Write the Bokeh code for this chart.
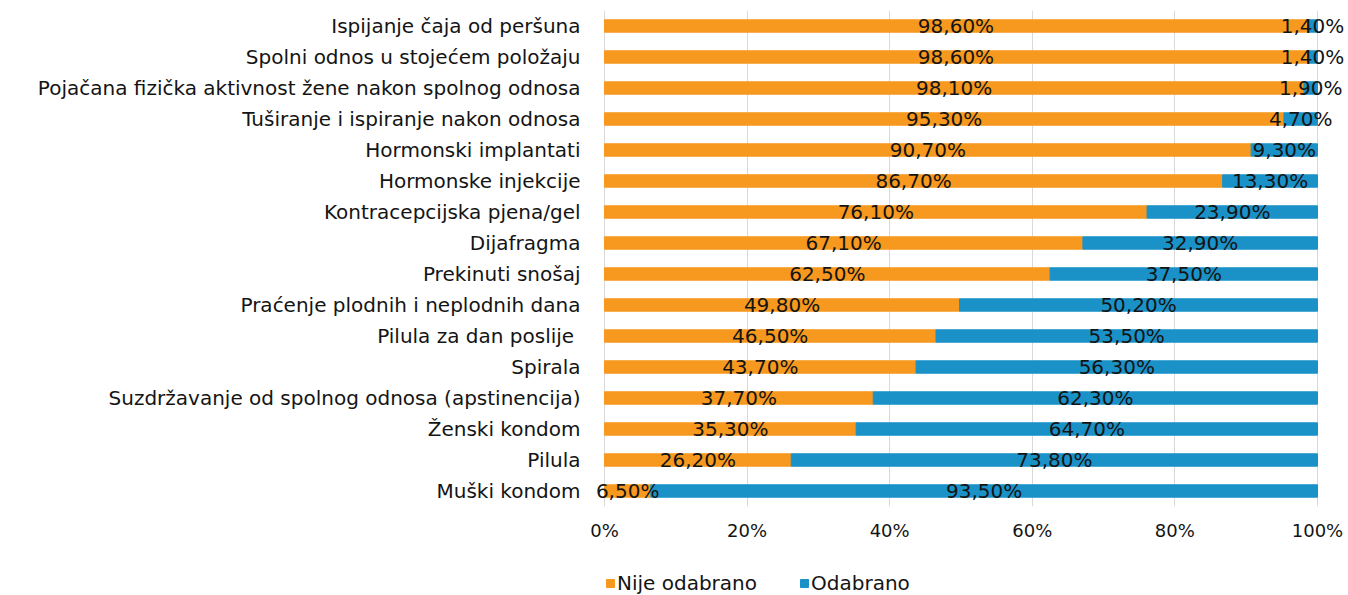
from bokeh.plotting import figure
from bokeh.layouts import column
from bokeh.models import ColumnDataSource, FixedTicker, Legend, LegendItem, LabelSet, Range1d, FactorRange
from bokeh.core.properties import value
from bokeh.embed import file_html
from bokeh.resources import INLINE

categories = [
    "Ispijanje čaja od peršuna",
    "Spolni odnos u stojećem položaju",
    "Pojačana fizička aktivnost žene nakon spolnog odnosa",
    "Tuširanje i ispiranje nakon odnosa",
    "Hormonski implantati",
    "Hormonske injekcije",
    "Kontracepcijska pjena/gel",
    "Dijafragma",
    "Prekinuti snošaj",
    "Praćenje plodnih i neplodnih dana",
    "Pilula za dan poslije ",
    "Spirala",
    "Suzdržavanje od spolnog odnosa (apstinencija)",
    "Ženski kondom",
    "Pilula",
    "Muški kondom",
]
nije = [98.6, 98.6, 98.1, 95.3, 90.7, 86.7, 76.1, 67.1, 62.5, 49.8, 46.5, 43.7, 37.7, 35.3, 26.2, 6.5]
odabrano = [1.4, 1.4, 1.9, 4.7, 9.3, 13.3, 23.9, 32.9, 37.5, 50.2, 53.5, 56.3, 62.3, 64.7, 73.8, 93.5]
series_names = ["Nije odabrano", "Odabrano"]
x_ticks = [0, 20, 40, 60, 80, 100]

ORANGE = "#F7991F"
BLUE = "#1A92C8"
TXT = "#141414"
FONT = "DejaVu Sans"
W = 1346

def fmt(v):
    return f"{v:.2f}".replace(".", ",") + "%"

src = ColumnDataSource(dict(
    cat=categories,
    nije=nije,
    total=[a + b for a, b in zip(nije, odabrano)],
    nije_mid=[a / 2 for a in nije],
    odab_mid=[a + b / 2 for a, b in zip(nije, odabrano)],
    nije_lbl=[fmt(v) for v in nije],
    odab_lbl=[fmt(v) for v in odabrano],
))

# frame padded beyond 0..100 so edge labels are not clipped
p = figure(
    y_range=list(reversed(categories)),
    x_range=Range1d(-2.24, 104.07),
    width=W, height=548,
    output_backend="svg", toolbar_location=None,
    min_border_left=588, min_border_right=0, min_border_top=10, min_border_bottom=42,
)

r1 = p.hbar(y="cat", left=0, right="nije", height=0.4, color=ORANGE, source=src)
r2 = p.hbar(y="cat", left="nije", right="total", height=0.4, color=BLUE, source=src)

for xcol, tcol in (("nije_mid", "nije_lbl"), ("odab_mid", "odab_lbl")):
    p.add_layout(LabelSet(x=xcol, y="cat", text=tcol, source=src,
                          text_align="center", text_baseline="middle",
                          text_font=value(FONT), text_font_size=value("20px"),
                          text_color=TXT))

p.outline_line_color = None
p.ygrid.grid_line_color = None
p.xgrid.grid_line_color = "#D9D9D9"
p.xgrid.ticker = FixedTicker(ticks=x_ticks)

p.xaxis.ticker = FixedTicker(ticks=x_ticks)
p.xaxis.major_label_overrides = {t: f"{t}%" for t in x_ticks}
p.xaxis.axis_line_color = None
p.xaxis.major_tick_line_color = None
p.xaxis.minor_tick_line_color = None
p.xaxis.major_label_standoff = 7
p.xaxis.major_label_text_font = FONT
p.xaxis.major_label_text_font_size = "18px"
p.xaxis.major_label_text_color = TXT

p.yaxis.axis_line_color = None
p.yaxis.major_tick_line_color = None
p.yaxis.minor_tick_line_color = None
p.yaxis.major_label_standoff = 2
p.yaxis.major_label_text_font = FONT
p.yaxis.major_label_text_font_size = "20px"
p.yaxis.major_label_text_color = TXT

# legend strip below the chart (its frame is aligned with the chart's frame);
# its renderers use a range without the categories, so no bars are drawn there
q = figure(width=W, height=47, y_range=FactorRange(factors=series_names),
           x_range=Range1d(0, 100),
           x_axis_location=None, y_axis_location=None,
           output_backend="svg", toolbar_location=None,
           min_border_left=0, min_border_right=0, min_border_top=0, min_border_bottom=0)
q.outline_line_color = None
q.grid.grid_line_color = None
l1 = q.hbar(y="cat", left=0, right="nije", height=0.4, color=ORANGE, source=src)
l2 = q.hbar(y="cat", left="nije", right="total", height=0.4, color=BLUE, source=src)
legend = Legend(items=[LegendItem(label=series_names[0], renderers=[l1]),
                       LegendItem(label=series_names[1], renderers=[l2])],
                orientation="horizontal", location=(17, 0),
                label_text_font=FONT, label_text_font_size="20px",
                label_text_color=TXT, label_height=24,
                glyph_width=10, glyph_height=10, label_standoff=2,
                spacing=42, padding=0, margin=0, border_line_color=None,
                background_fill_alpha=0)
q.add_layout(legend, "center")

layout = column(p, q, spacing=0)
open("out.html", "w").write(file_html(layout, INLINE))
